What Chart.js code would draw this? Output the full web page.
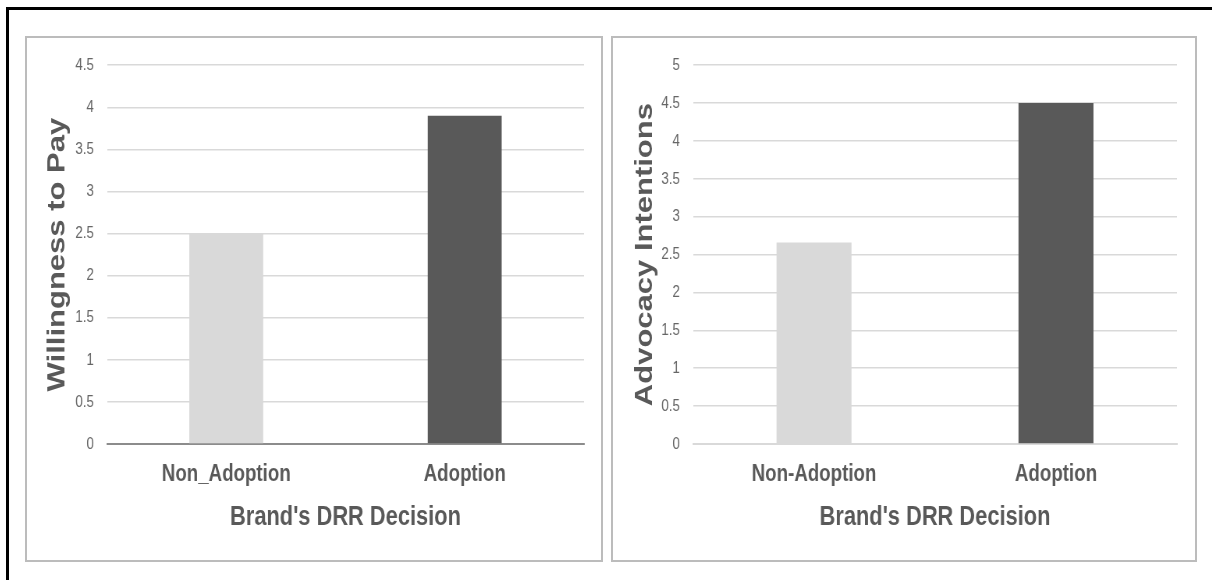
<!DOCTYPE html>
<html>
<head>
<meta charset="utf-8">
<script src="https://cdn.jsdelivr.net/npm/chart.js@4.4.1/dist/chart.umd.min.js"></script>
<style>
  html, body { margin: 0; padding: 0; background: #fff; overflow: hidden; }
  body { width: 1212px; height: 580px; position: relative; }
  .frame { position: absolute; left: 6px; top: 7px; width: 1300px; height: 700px;
           border-top: 3px solid #000; border-left: 3px solid #000; }
  .panel { position: absolute; top: 36px; height: 522px; border: 2px solid #bcbcbc; background: #fff; }
  #leftPanel { left: 25px; width: 574px; }
  #rightPanel { left: 611px; width: 582px; }
  .panel canvas { position: absolute; left: 0; top: 0; transform: scaleX(0.78); transform-origin: 0 0; }
</style>
</head>
<body>
<div class="frame"></div>
<div class="panel" id="leftPanel"><canvas id="wtpChart" width="736" height="522"></canvas></div>
<div class="panel" id="rightPanel"><canvas id="advChart" width="746" height="522"></canvas></div>
<script>
const wtpCategories = ["Non_Adoption", "Adoption"];
const advCategories = ["Non-Adoption", "Adoption"];
const willingnessToPay = [2.5, 3.9];
const advocacyIntentions = [2.66, 4.5];
const barColors = ["#d9d9d9", "#595959"];
const xTitle = "Brand's DRR Decision";

const FONT = "'Liberation Sans', Arial, sans-serif";
const TEXT = "#595959";

function makeChart(id, labels, values, yTitle, yMax, opts) {
  const ctx = document.getElementById(id).getContext("2d");
  return new Chart(ctx, {
    type: "bar",
    data: {
      labels: labels,
      datasets: [
        {
          data: values,
          backgroundColor: barColors,
          borderWidth: 0,
          barPercentage: 0.31,
          categoryPercentage: 1,
        },
      ],
    },
    options: {
      responsive: false,
      animation: false,
      layout: { padding: { top: opts.top, right: opts.right, left: 0, bottom: 0 } },
      plugins: { legend: { display: false }, tooltip: { enabled: false } },
      scales: {
        x: {
          grid: { display: false, drawTicks: false },
          border: { display: true, color: opts.axisColor, width: 2 },
          ticks: {
            color: TEXT,
            padding: 16,
            font: { family: FONT, size: 24, weight: "bold" },
          },
          title: {
            display: true,
            text: xTitle,
            color: TEXT,
            font: { family: FONT, size: 28, weight: "bold" },
            padding: { top: 10, bottom: 26 },
          },
          afterFit: (scale) => { scale.height = 116; },
        },
        y: {
          min: 0,
          max: yMax,
          grid: { color: "#d9d9d9", lineWidth: 1.5, drawTicks: false },
          border: { display: false },
          ticks: {
            stepSize: 0.5,
            color: "#666",
            padding: opts.tickPad,
            font: { family: FONT, size: 17 },
            // 4 rather than 4.0, like the spreadsheet axis
            callback: (v) => String(Number(v.toFixed(1))),
          },
          title: {
            display: true,
            text: yTitle,
            color: TEXT,
            font: { family: FONT, size: 31, weight: "bold" },
            padding: { top: opts.titlePad, bottom: 0 },
          },
          afterFit: (scale) => { scale.width = 102.6; },
        },
      },
    },
  });
}

makeChart("wtpChart", wtpCategories, willingnessToPay, "Willingness to Pay", 4.5,
  { top: 24, right: 22, axisColor: "#8c8c8c", tickPad: 17, titlePad: 21 });
makeChart("advChart", advCategories, advocacyIntentions, "Advocacy Intentions", 5,
  { top: 22, right: 23, axisColor: "#d9d9d9", tickPad: 17, titlePad: 23 });
</script>
</body>
</html>
